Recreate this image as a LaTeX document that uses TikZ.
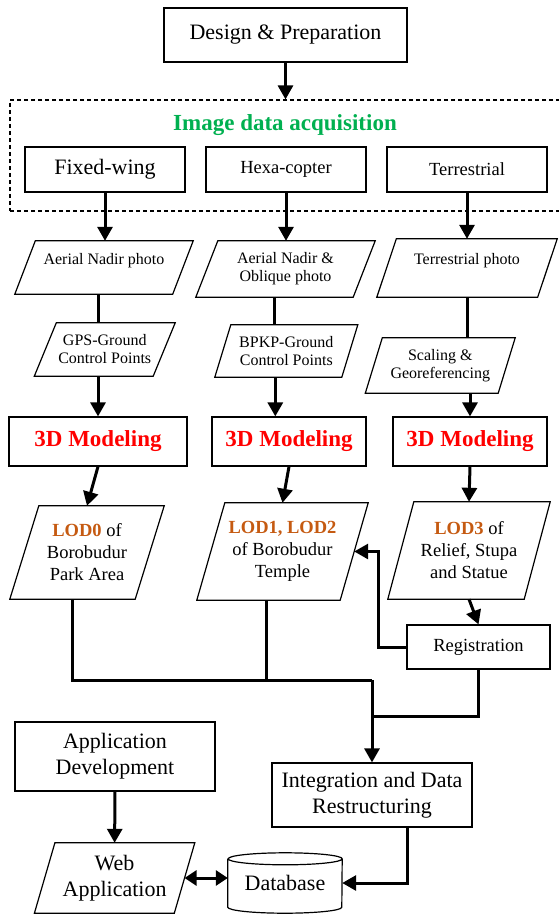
\documentclass[tikz,border=0pt]{standalone}
\usepackage{fontspec}
\setmainfont{Liberation Serif}
\usetikzlibrary{arrows.meta, positioning}
\definecolor{acqgreen}{RGB}{0,176,80}
\definecolor{lodorange}{RGB}{197,90,17}
\tikzset{
	box/.style={draw, line width=1.2pt, rectangle, inner sep=2pt, align=center}, % plain process box
	io/.style={rectangle, inner sep=2pt, align=center}, % body of a slanted data box, frame drawn by \slantframe
	bigfont/.style={font=\fontsize{22}{26}\selectfont}, % large labels
	midfont/.style={font=\fontsize{18.5}{22}\selectfont}, % medium labels
	smallfont/.style={font=\fontsize{16}{18}\selectfont}, % small labels
	model/.style={box, font=\fontsize{23}{27}\selectfont\bfseries, text=red, minimum height=49pt}, % red modeling step
	link/.style={line width=3pt}, % plain connector
	arrow/.style={line width=3pt, -{Triangle[width=15pt,length=14pt]}}, % connector with a head
	twoway/.style={line width=3pt, {Triangle[width=15pt,length=12pt]}-{Triangle[width=15pt,length=12pt]}}, % both ways
}
\newcommand{\lod}[1]{\textbf{\color{lodorange}#1}}
% parallelogram round node #1, top shifted right by #2, bottom left by #2
\newcommand{\slantframe}[2]{\draw[line width=1.2pt] ([xshift=#2]#1.north west) -- ([xshift=#2]#1.north east) -- ([xshift=-#2]#1.south east) -- ([xshift=-#2]#1.south west) -- cycle;}
\begin{document}
\begin{tikzpicture}[x=1pt, y=-1pt]
	\useasboundingbox (0,0) rectangle (558,915);
	% top and acquisition frame
	\node[box, bigfont, minimum width=243pt, minimum height=54pt] (design) at (285.5,35) {Design \& Preparation};
	\node[draw, line width=1.2pt, dash pattern=on 4pt off 3pt, minimum width=552pt, minimum height=111pt] (acq) at (286,155.5) {};
	\node[font=\fontsize{23}{27}\selectfont\bfseries, text=acqgreen] (acqtitle) at (285,125) {Image data acquisition};
	\node[box, bigfont, minimum width=160pt, minimum height=45pt] (fixed) at (105,169.5) {Fixed-wing};
	\node[box, midfont, minimum width=160pt, minimum height=45pt] (hexa) at (286,169.5) {Hexa-copter};
	\node[box, midfont, minimum width=160pt, minimum height=45pt] (terr) at (467,169.5) {Terrestrial};
	% photos and control
	\node[io, smallfont, minimum width=157.5pt, minimum height=53pt] (an1) at (104,267.5) {Aerial Nadir photo\\ \mbox{}};
	\node[io, smallfont, minimum width=157pt, minimum height=56pt] (an2) at (285.5,269) {Aerial Nadir \&\\Oblique photo};
	\node[io, smallfont, minimum width=160.5pt, minimum height=58pt] (tp) at (467,268) {Terrestrial photo\\ \mbox{}};
	\node[io, smallfont, minimum width=118.5pt, minimum height=53pt] (gps) at (104.75,349.5) {GPS-Ground\\Control Points};
	\node[io, smallfont, minimum width=126.6pt, minimum height=52pt] (bpkp) at (286.3,351) {BPKP-Ground\\Control Points};
	\node[io, smallfont, minimum width=132.5pt, minimum height=55pt] (scal) at (440.25,365.5) {Scaling \&\\Georeferencing};
	\slantframe{an1}{10.25pt}
	\slantframe{an2}{11pt}
	\slantframe{tp}{9.75pt}
	\slantframe{gps}{11pt}
	\slantframe{bpkp}{8pt}
	\slantframe{scal}{8.5pt}
	% modeling
	\node[model, minimum width=178pt] (mod1) at (98,441.5) {3D Modeling};
	\node[model, minimum width=154pt] (mod2) at (289,441.5) {3D Modeling};
	\node[model, minimum width=154pt] (mod3) at (470,441.5) {3D Modeling};
	\node[io, midfont, minimum width=125pt, minimum height=93pt] (lod0) at (87,552.5) {\lod{LOD0} of\\Borobudur\\Park Area};
	\node[io, midfont, minimum width=143pt, minimum height=97pt] (lod1) at (282.5,551.5) {\lod{LOD1, LOD2}\\of Borobudur\\Temple};
	\node[io, midfont, minimum width=136pt, minimum height=97pt] (lod3) at (469,550.5) {\lod{LOD3} of\\Relief, Stupa\\and Statue};
	\slantframe{lod0}{14.5pt}
	\slantframe{lod1}{14pt}
	\slantframe{lod3}{13pt}
	\node[box, midfont, minimum width=143pt, minimum height=44pt] (reg) at (478.5,647) {Registration};
	% application side
	\node[box, bigfont, minimum width=200pt, minimum height=69pt] (appdev) at (115,756.5) {Application\\Development};
	\node[box, bigfont, minimum width=200pt, minimum height=64pt] (integ) at (372,795) {Integration and Data\\Restructuring};
	\node[io, bigfont, minimum width=139.5pt, minimum height=70pt] (webapp) at (114.6,878) {Web\\Application};
	\slantframe{webapp}{10.25pt}
	\node[bigfont, inner sep=0pt, minimum width=114pt, minimum height=60pt] (db) at (285,883) {Database};
	\draw[line width=1.2pt] ([yshift=-6pt]db.north west) -- ([yshift=6pt]db.south west)
		arc[start angle=180, end angle=360, x radius=57pt, y radius=6pt] -- ([yshift=-6pt]db.north east)
		arc[start angle=0, end angle=360, x radius=57pt, y radius=6pt];
	\coordinate (merge) at (372,680);
	\coordinate (regjoin) at (372,716);
	% connectors
	\draw[arrow] (design.south) -- (design.south |- acq.north);
	\draw[arrow] (fixed.south) -- (fixed.south |- an1.north);
	\draw[arrow] (hexa.south) -- (hexa.south |- an2.north);
	\draw[arrow] (terr.south) -- (terr.south |- tp.north);
	\draw[link] ([xshift=-6pt]an1.south) -- ([xshift=-6pt]an1.south |- gps.north);
	\draw[link] ([xshift=-11pt]an2.south) -- ([xshift=-11pt]an2.south |- bpkp.north);
	\draw[link] (tp.south) -- (tp.south |- scal.north);
	\draw[arrow] (gps.south -| mod1.north) -- (mod1.north);
	\draw[arrow] ([xshift=-11pt]bpkp.south) -- ([xshift=-11pt]bpkp.south |- mod2.north);
	\draw[arrow] (scal.south -| mod3.north) -- (mod3.north);
	\draw[arrow] (mod1.south) -- (lod0.north);
	\draw[arrow] (mod2.south) -- (lod1.north);
	\draw[arrow] (mod3.south) -- (lod3.north);
	\draw[arrow] (lod3.south) -- (reg.north);
	\draw[arrow] (reg.west) -- ++(-28,0) |- (lod1.east);
	\draw[link] ([xshift=-14.5pt]lod0.south) |- (merge);
	\draw[link] ([xshift=-16pt]lod1.south) -- ([xshift=-16pt]lod1.south |- merge);
	\draw[link] (reg.south) |- (regjoin);
	\draw[arrow] (merge) -- (integ.north);
	\draw[arrow] (appdev.south) -- (webapp.north);
	\draw[twoway] (webapp.east) -- (webapp.east -| db.west);
	\draw[arrow] ([xshift=35pt]integ.south) |- (db.east);
\end{tikzpicture}
\end{document}
